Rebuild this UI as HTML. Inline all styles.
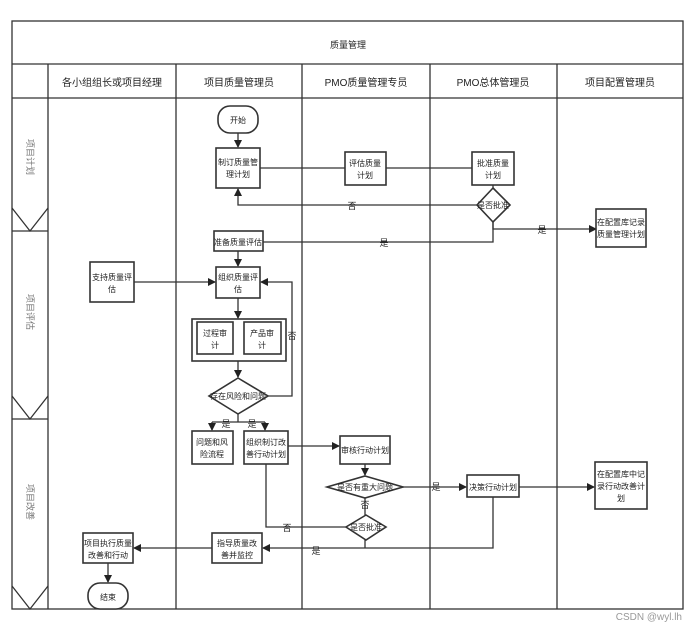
<!DOCTYPE html>
<html><head><meta charset="utf-8"><style>
html,body{margin:0;padding:0;background:#fff;}
svg{display:block;font-family:"Liberation Sans","Noto Sans CJK SC",sans-serif;}
</style></head><body>
<svg width="697" height="632" viewBox="0 0 697 632" xmlns="http://www.w3.org/2000/svg">
<defs>
<marker id="a" markerWidth="8" markerHeight="8" refX="7" refY="4" orient="auto" markerUnits="userSpaceOnUse"><path d="M0,0 L8,4 L0,8 Z" fill="#222"/></marker>
</defs>
<rect width="697" height="632" fill="#fff"/>
<g stroke="#333" stroke-width="1.3" fill="none">
<rect x="12" y="21" width="671" height="588"/>
<line x1="12" y1="64" x2="683" y2="64"/>
<line x1="12" y1="98" x2="683" y2="98"/>
<line x1="48" y1="64" x2="48" y2="609"/>
<line x1="176" y1="64" x2="176" y2="609"/>
<line x1="302" y1="64" x2="302" y2="609"/>
<line x1="430" y1="64" x2="430" y2="609"/>
<line x1="557" y1="64" x2="557" y2="609"/>
<line x1="12" y1="231" x2="48" y2="231"/>
<line x1="12" y1="419" x2="48" y2="419"/>
<polyline points="12,208 30,231 48,208"/>
<polyline points="12,396 30,419 48,396"/>
<polyline points="12,586 30,609 48,586"/>
</g>
<g font-size="10" fill="#222" text-anchor="middle">
<text x="348" y="48" font-size="9">质量管理</text>
<text x="112" y="86">各小组组长或项目经理</text>
<text x="239" y="86">项目质量管理员</text>
<text x="366" y="86">PMO质量管理专员</text>
<text x="493" y="86">PMO总体管理员</text>
<text x="620" y="86">项目配置管理员</text>
</g>
<g font-size="9" fill="#777" text-anchor="middle">
<text transform="translate(27,157) rotate(90)">项目计划</text>
<text transform="translate(27,312) rotate(90)">项目评估</text>
<text transform="translate(27,502) rotate(90)">项目改善</text>
</g>
<g stroke="#333" stroke-width="1.3" fill="none">
<line x1="238" y1="133" x2="238" y2="147" marker-end="url(#a)"/>
<line x1="260" y1="168" x2="345" y2="168"/>
<line x1="386" y1="168" x2="472" y2="168"/>
<line x1="493" y1="185" x2="493" y2="188"/>
<polyline points="477,205 238,205 238,189" marker-end="url(#a)"/>
<polyline points="263,242 493,242 493,222"/>
<polyline points="493,222 493,229 596,229" marker-end="url(#a)"/>
<line x1="238" y1="251" x2="238" y2="266" marker-end="url(#a)"/>
<line x1="134" y1="282" x2="215" y2="282" marker-end="url(#a)"/>
<line x1="238" y1="298" x2="238" y2="318" marker-end="url(#a)"/>
<line x1="238" y1="361" x2="238" y2="377" marker-end="url(#a)"/>
<polyline points="268,396 292,396 292,282 261,282" marker-end="url(#a)"/>
<line x1="238" y1="414" x2="238" y2="422"/>
<line x1="212" y1="422" x2="265" y2="422"/>
<line x1="212" y1="422" x2="212" y2="430" marker-end="url(#a)"/>
<line x1="265" y1="422" x2="265" y2="430" marker-end="url(#a)"/>
<line x1="288" y1="446" x2="339" y2="446" marker-end="url(#a)"/>
<line x1="365" y1="464" x2="365" y2="475" marker-end="url(#a)"/>
<line x1="403" y1="487" x2="466" y2="487" marker-end="url(#a)"/>
<line x1="519" y1="487" x2="594" y2="487" marker-end="url(#a)"/>
<line x1="365" y1="498" x2="365" y2="515"/>
<polyline points="346,527 266,527 266,464"/>
<polyline points="365,540 365,548"/>
<polyline points="493,497 493,548 263,548" marker-end="url(#a)"/>
<line x1="212" y1="548" x2="134" y2="548" marker-end="url(#a)"/>
<line x1="108" y1="563" x2="108" y2="582" marker-end="url(#a)"/>
</g>
<g stroke="#333" stroke-width="1.6" fill="#fff">
<rect x="218" y="106" width="40" height="27" rx="12"/>
<rect x="216" y="148" width="44" height="40"/>
<rect x="345" y="152" width="41" height="33"/>
<rect x="472" y="152" width="42" height="33"/>
<polygon points="493,188 510,205 493,222 477,205"/>
<rect x="596" y="209" width="50" height="38"/>
<rect x="214" y="231" width="49" height="20"/>
<rect x="90" y="262" width="44" height="40"/>
<rect x="216" y="267" width="44" height="31"/>
<rect x="192" y="319" width="94" height="42"/>
<rect x="197" y="322" width="36" height="32"/>
<rect x="244" y="322" width="37" height="32"/>
<polygon points="238,378 268,396 238,414 209,396"/>
<rect x="192" y="431" width="41" height="33"/>
<rect x="244" y="431" width="44" height="33"/>
<rect x="340" y="436" width="50" height="28"/>
<polygon points="365,476 403,487 365,498 327,487"/>
<rect x="467" y="475" width="52" height="22"/>
<rect x="595" y="462" width="52" height="47"/>
<polygon points="366,515 386,527 366,540 346,527"/>
<rect x="212" y="533" width="50" height="30"/>
<rect x="83" y="533" width="50" height="30"/>
<rect x="88" y="583" width="40" height="26" rx="12"/>
</g>
<g font-size="8" fill="#222" text-anchor="middle">
<text x="238" y="123">开始</text>
<text x="238" y="165">制订质量管</text><text x="238" y="177">理计划</text>
<text x="365" y="166">评估质量</text><text x="365" y="178">计划</text>
<text x="493" y="166">批准质量</text><text x="493" y="178">计划</text>
<text x="493" y="208">是否批准</text>
<text x="621" y="225">在配置库记录</text><text x="621" y="237">质量管理计划</text>
<text x="238" y="245">准备质量评估</text>
<text x="112" y="280">支持质量评</text><text x="112" y="292">估</text>
<text x="238" y="280">组织质量评</text><text x="238" y="292">估</text>
<text x="215" y="336">过程审</text><text x="215" y="348">计</text>
<text x="262" y="336">产品审</text><text x="262" y="348">计</text>
<text x="238" y="399">存在风险和问题</text>
<text x="212" y="445">问题和风</text><text x="212" y="457">险流程</text>
<text x="266" y="445">组织制订改</text><text x="266" y="457">善行动计划</text>
<text x="365" y="453">审核行动计划</text>
<text x="365" y="490">是否有重大问题</text>
<text x="493" y="490">决策行动计划</text>
<text x="621" y="477">在配置库中记</text><text x="621" y="489">录行动改善计</text><text x="621" y="501">划</text>
<text x="366" y="530">是否批准</text>
<text x="237" y="546">指导质量改</text><text x="237" y="558">善并监控</text>
<text x="108" y="546">项目执行质量</text><text x="108" y="558">改善和行动</text>
<text x="108" y="600">结束</text>
</g>
<g font-size="9" fill="#222" text-anchor="middle">
<text x="352" y="209">否</text>
<text x="384" y="246">是</text>
<text x="542" y="233">是</text>
<text x="292" y="339">否</text>
<text x="226" y="427">是</text>
<text x="252" y="427">是</text>
<text x="436" y="490">是</text>
<text x="365" y="508">否</text>
<text x="287" y="531">否</text>
<text x="316" y="554">是</text>
</g>
<text x="682" y="620" font-size="10" fill="#999" text-anchor="end">CSDN @wyl.lh</text>
</svg>
</body></html>
